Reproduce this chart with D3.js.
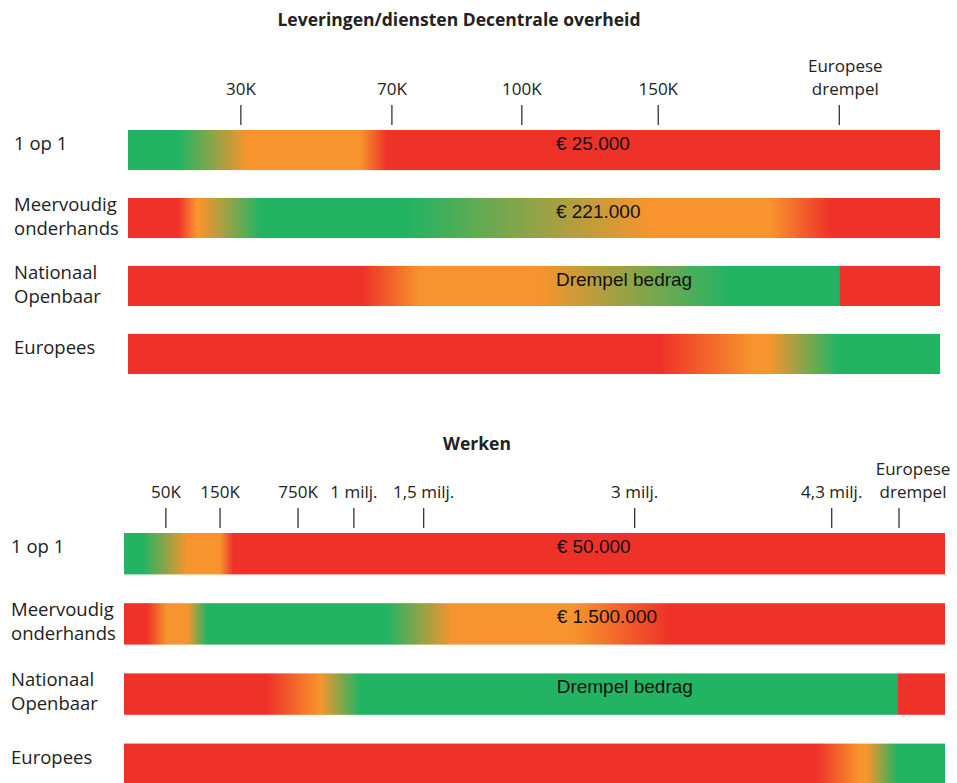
<!DOCTYPE html>
<html>
<head>
<meta charset="utf-8">
<script src="https://cdn.jsdelivr.net/npm/d3@7"></script>
<style>
  body { margin: 0; background: #fff; }
  svg { display: block; }
  .row-label, .tick-label { font-family: "Open Sans", sans-serif; fill: #222; }
  .panel-title { font-family: "Open Sans", sans-serif; font-weight: 700; fill: #222; }
  .bar-label { font-family: "Liberation Sans", Arial, sans-serif; fill: #111; }
</style>
</head>
<body>
<svg id="chart"></svg>
<script>
// colours of the zones
const zoneColors = {G: "#22b463", O: "#f7942d", R: "#ee3229"};

const rowNames = ["1 op 1", "Meervoudig\nonderhands", "Nationaal\nOpenbaar", "Europees"];

// panel 1: Leveringen/diensten Decentrale overheid  (positions in % of the strip)
const levTitle = "Leveringen/diensten Decentrale overheid";
const levTicks = ["30K", "70K", "100K", "150K", "Europese\ndrempel"];
const levTickPos = [13.9, 32.5, 48.5, 65.3, 87.6];
const levBarText = ["€ 25.000", "€ 221.000", "Drempel bedrag", ""];
const levStops = [
    [[0, "G"], [6.2, "G"], [14.7, "O"], [28.6, "O"], [31.9, "R"], [100, "R"]],
    [[0, "R"], [6.2, "R"], [8.4, "O"], [8.9, "O"], [16.3, "G"], [34.4, "G"], [64.3, "O"], [79.1, "O"], [86.5, "R"], [100, "R"]],
    [[0, "R"], [28.9, "R"], [36.0, "O"], [50.7, "O"], [74.1, "G"], [87.6, "G"], [87.7, "R"], [100, "R"]],
    [[0, "R"], [65.5, "R"], [77.0, "O"], [79.0, "O"], [87.4, "G"], [100, "G"]]
];

// panel 2: Werken
const werTitle = "Werken";
const werTicks = ["50K", "150K", "750K", "1 milj.", "1,5 milj.", "3 milj.", "4,3 milj.", "Europese\ndrempel"];
const werTickPos = [5.1, 11.7, 21.2, 28.0, 36.5, 62.2, 86.2, 94.4];
const werBarText = ["€ 50.000", "€ 1.500.000", "Drempel bedrag", ""];
const werStops = [
    [[0, "G"], [2.3, "G"], [7.7, "O"], [11.7, "O"], [13.3, "R"], [100, "R"]],
    [[0, "R"], [2.8, "R"], [5.2, "O"], [7.7, "O"], [10.1, "G"], [32.0, "G"], [40.0, "O"], [54.7, "O"], [66.5, "R"], [100, "R"]],
    [[0, "R"], [17.4, "R"], [23.9, "O"], [28.7, "G"], [94.2, "G"], [94.3, "R"], [100, "R"]],
    [[0, "R"], [84.4, "R"], [89.5, "O"], [90.5, "O"], [94.2, "G"], [100, "G"]]
];

const labelPos = 52.7; // where the text inside the bars starts (%)

const width = 957, height = 783;
const svg = d3.select("#chart").attr("width", width).attr("height", height);
const defs = svg.append("defs");

function drawPanel(cfg){
    const g = svg.append("g").attr("class", "panel");

    const x = d3.scaleLinear().domain([0, 100]).range(cfg.xRange);
    const y = d3.scaleBand().domain(rowNames).range(cfg.yRange).paddingInner(0.41).paddingOuter(0);

    g.append("text")
        .attr("class", "panel-title")
        .attr("x", cfg.titleX)
        .attr("y", cfg.titleY)
        .attr("text-anchor", "middle")
        .style("font-size", "17.5px")
        .text(cfg.title);

    // ticks above the strips
    const ticks = g.append("g").attr("class", "ticks");
    const tick = ticks.selectAll("g")
        .data(cfg.ticks.map((t, i) => ({label: t, pos: cfg.tickPos[i]})))
        .join("g")
        .attr("transform", d => `translate(${x(d.pos)},0)`);

    tick.append("line")
        .attr("y1", cfg.yRange[0] - 25)
        .attr("y2", cfg.yRange[0] - 5)
        .attr("stroke", "#333")
        .attr("stroke-width", 1.3);

    tick.append("text")
        .attr("class", "tick-label")
        .attr("text-anchor", "middle")
        .attr("x", d => d.label.includes("\n") ? cfg.edgeDx : 0)
        .style("font-size", "17px")
        .selectAll("tspan")
        .data(d => d.label.split("\n").reverse())
        .join("tspan")
        .attr("x", function(){ return d3.select(this.parentNode).attr("x"); })
        .attr("y", (d, i) => cfg.yRange[0] - 35 - i * 23)
        .text(d => d);

    // strips
    const rows = g.selectAll("g.row")
        .data(rowNames.map((name, i) => ({name, stops: cfg.stops[i], text: cfg.barText[i], i})))
        .join("g")
        .attr("class", "row");

    rows.each(function(d){
        const id = `${cfg.id}-grad-${d.i}`;
        const grad = defs.append("linearGradient")
            .attr("id", id)
            .attr("x1", "0%").attr("x2", "100%")
            .attr("y1", "0%").attr("y2", "0%");
        grad.selectAll("stop")
            .data(d.stops)
            .join("stop")
            .attr("offset", s => s[0] + "%")
            .attr("stop-color", s => zoneColors[s[1]]);
    });

    rows.append("rect")
        .attr("x", x(0))
        .attr("y", d => y(d.name))
        .attr("width", x(100) - x(0))
        .attr("height", y.bandwidth())
        .attr("fill", d => `url(#${cfg.id}-grad-${d.i})`);

    rows.append("text")
        .attr("class", "bar-label")
        .attr("x", x(labelPos))
        .attr("y", d => y(d.name) + 20)
        .style("font-size", "19px")
        .text(d => d.text);

    rows.append("text")
        .attr("class", "row-label")
        .style("font-size", "18.5px")
        .selectAll("tspan")
        .data(d => d.name.split("\n").map(l => ({l, n: d.name.split("\n").length, top: y(d.name)})))
        .join("tspan")
        .attr("x", cfg.labelX)
        .attr("y", (t, i) => t.top + (t.n > 1 ? 13 : 20) + i * 24)
        .text(t => t.l);
}

drawPanel({
    id: "lev", title: levTitle, ticks: levTicks, tickPos: levTickPos,
    barText: levBarText, stops: levStops, edgeDx: 6,
    xRange: [128, 940], yRange: [130, 374], titleX: 459, titleY: 26, labelX: 14
});

drawPanel({
    id: "wer", title: werTitle, ticks: werTicks, tickPos: werTickPos,
    barText: werBarText, stops: werStops, edgeDx: 14,
    xRange: [124, 945], yRange: [533, 785], titleX: 477, titleY: 450, labelX: 11
});
</script>
</body>
</html>
